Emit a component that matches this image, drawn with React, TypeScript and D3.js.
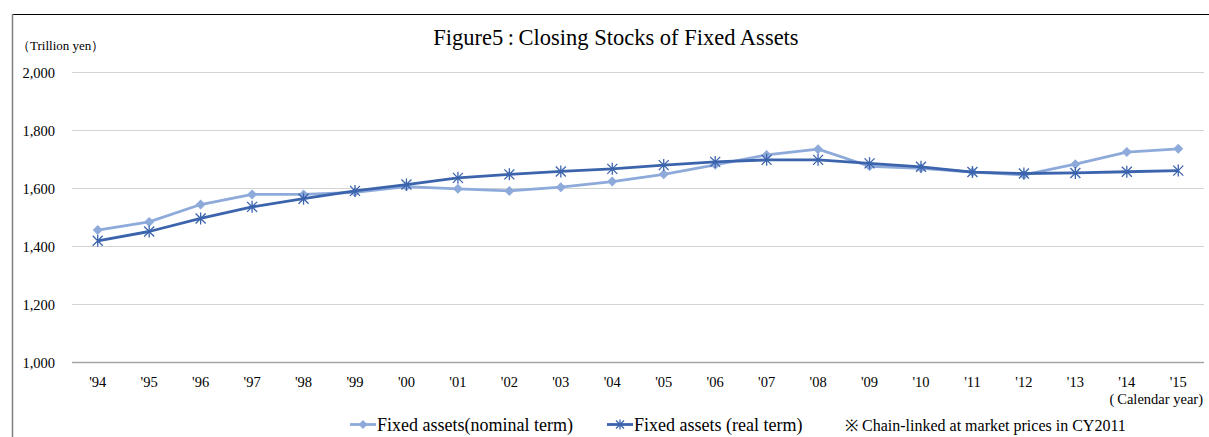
import React, { useEffect, useRef } from 'react';
import * as d3 from 'd3';

const years = ["'94", "'95", "'96", "'97", "'98", "'99", "'00", "'01", "'02", "'03", "'04", "'05", "'06", "'07", "'08", "'09", "'10", "'11", "'12", "'13", "'14", "'15"];
const nominal = [1455, 1483, 1543, 1578, 1578, 1585, 1605, 1597, 1590, 1603, 1622, 1647, 1680, 1714, 1734, 1675, 1668, 1655, 1645, 1682, 1724, 1735];
const real = [1418, 1450, 1495, 1535, 1563, 1590, 1612, 1635, 1647, 1657, 1666, 1679, 1690, 1697, 1697, 1685, 1673, 1655, 1650, 1652, 1656, 1660];
const yTicks = [1000, 1200, 1400, 1600, 1800, 2000];

const W = 1209;
const H = 437;
const FONT = '"Liberation Serif", "Times New Roman", serif';
const NOM_COLOR = '#8eaadb';
const REAL_COLOR = '#3b64ad';

function App() {
  const ref = useRef<SVGSVGElement>(null);

  useEffect(() => {
    const svg = d3.select(ref.current);
    svg.selectAll('*').remove();

    const x = d3.scaleBand().domain(years).range([72, 1204]);
    const y = d3.scaleLinear().domain([1000, 2000]).range([362, 72]);
    const cx = (d: string) => (x(d) as number) + x.bandwidth() / 2;

    // frame
    svg.append('line').attr('x1', 12).attr('x2', W).attr('y1', 14.5).attr('y2', 14.5).attr('stroke', '#000').attr('stroke-width', 1);
    svg.append('line').attr('x1', 12.5).attr('x2', 12.5).attr('y1', 14).attr('y2', H).attr('stroke', '#808080').attr('stroke-width', 1.5);

    // grid
    svg.append('g').selectAll('line').data(yTicks).enter().append('line')
      .attr('x1', 72).attr('x2', 1204)
      .attr('y1', d => Math.round(y(d)) + 0.5).attr('y2', d => Math.round(y(d)) + 0.5)
      .attr('stroke', d => (d === 1000 ? '#a6a6a6' : '#d3d3d3'))
      .attr('stroke-width', d => (d === 1000 ? 1.3 : 1));

    svg.append('g').selectAll('text').data(yTicks).enter().append('text')
      .attr('x', 55).attr('y', d => y(d) + 5.5)
      .attr('text-anchor', 'end').attr('font-family', FONT).attr('font-size', 14.5).attr('fill', '#000')
      .text(d => d3.format(',')(d));

    svg.append('g').selectAll('text').data(years).enter().append('text')
      .attr('x', d => cx(d)).attr('y', 386.5)
      .attr('text-anchor', 'middle').attr('font-family', FONT).attr('font-size', 14.5).attr('fill', '#000')
      .text(d => d);

    svg.append('text').attr('x', 616).attr('y', 45).attr('text-anchor', 'middle')
      .attr('font-family', FONT).attr('font-size', 22.5).attr('fill', '#000')
      .text('Figure5\u2009:\u2009Closing Stocks of Fixed Assets');

    svg.append('text').attr('x', 17).attr('y', 50).attr('font-family', FONT).attr('font-size', 13).attr('fill', '#000')
      .text('\uFF08Trillion yen\uFF09');

    svg.append('text').attr('x', 1203).attr('y', 404).attr('text-anchor', 'end').attr('font-family', FONT).attr('font-size', 14.5).attr('fill', '#000')
      .text('(\u2009Calendar year)');

    const line = d3.line<number>().x((_, i) => cx(years[i])).y(d => y(d));

    const diamond = (g: d3.Selection<any, any, any, any>, px: number, py: number, r: number, color: string) => {
      g.append('path')
        .attr('d', `M${px},${py - r}L${px + r},${py}L${px},${py + r}L${px - r},${py}Z`)
        .attr('fill', color);
    };
    const star = (g: d3.Selection<any, any, any, any>, px: number, py: number, r: number, color: string) => {
      g.append('path')
        .attr('d', `M${px - r},${py - r}L${px + r},${py + r}M${px - r},${py + r}L${px + r},${py - r}M${px},${py - r - 1}L${px},${py + r + 1}`)
        .attr('stroke', color).attr('stroke-width', 1.3).attr('fill', 'none');
    };

    // nominal
    svg.append('path').datum(nominal).attr('d', line).attr('fill', 'none')
      .attr('stroke', NOM_COLOR).attr('stroke-width', 2.8).attr('stroke-linejoin', 'round');
    const gn = svg.append('g');
    nominal.forEach((v, i) => diamond(gn, cx(years[i]), y(v), 5, NOM_COLOR));

    // real
    svg.append('path').datum(real).attr('d', line).attr('fill', 'none')
      .attr('stroke', REAL_COLOR).attr('stroke-width', 2.8).attr('stroke-linejoin', 'round');
    const gr = svg.append('g');
    real.forEach((v, i) => star(gr, cx(years[i]), y(v), 5, REAL_COLOR));

    // legend
    const ly = 424.5;
    const lg = svg.append('g');
    lg.append('line').attr('x1', 350).attr('x2', 376).attr('y1', ly).attr('y2', ly).attr('stroke', NOM_COLOR).attr('stroke-width', 2.8);
    diamond(lg, 363, ly, 4.5, NOM_COLOR);
    lg.append('text').attr('x', 377).attr('y', 431).attr('font-family', FONT).attr('font-size', 18).attr('fill', '#000')
      .text('Fixed assets(nominal term)');
    lg.append('line').attr('x1', 607).attr('x2', 633).attr('y1', ly).attr('y2', ly).attr('stroke', REAL_COLOR).attr('stroke-width', 2.8);
    star(lg, 620, ly, 4, REAL_COLOR);
    lg.append('text').attr('x', 634).attr('y', 431).attr('font-family', FONT).attr('font-size', 18).attr('fill', '#000')
      .text('Fixed assets (real term)');
    lg.append('text').attr('x', 845).attr('y', 431).attr('font-family', FONT).attr('font-size', 16).attr('fill', '#000')
      .text('\u203B Chain-linked at market prices in CY2011');
  }, []);

  return (
    <svg ref={ref} width={W} height={H}
      style={{ position: 'absolute', left: 0, top: 0, display: 'block', background: '#fff' }} />
  );
}

export default App;
